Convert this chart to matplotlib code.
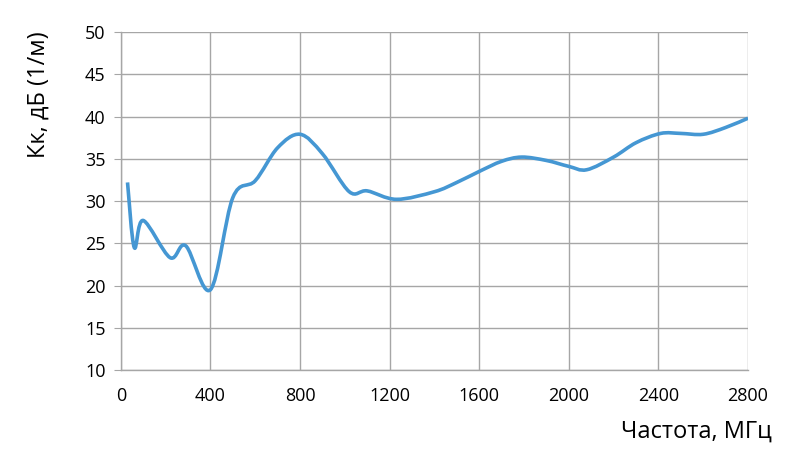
import matplotlib.pyplot as plt
from matplotlib.path import Path
from matplotlib.patches import PathPatch

# Частота (МГц) и Кк (дБ, 1/м)
freq = [30, 60, 100, 220, 290, 400, 500, 600, 700, 800, 900, 1020, 1100,
        1230, 1400, 1500, 1600, 1700, 1790, 1900, 2000, 2080, 2200, 2300,
        2410, 2500, 2600, 2700, 2800]
kk = [32.2, 24.5, 27.7, 23.3, 24.7, 19.5, 30.4, 32.4, 36.3, 37.9, 35.6, 31.1, 31.2,
      30.2, 31.1, 32.2, 33.5, 34.7, 35.2, 34.8, 34.1, 33.7, 35.2, 36.9,
      38.0, 38.0, 37.9, 38.7, 39.8]

x_ticks = [0, 400, 800, 1200, 1600, 2000, 2400, 2800]
y_ticks = [10, 15, 20, 25, 30, 35, 40, 45, 50]


def smooth_path(xs, ys):
    # сглаженная линия как в Excel: кривые Безье через точки
    n = len(xs)
    verts = [(xs[0], ys[0])]
    codes = [Path.MOVETO]
    for i in range(n - 1):
        x0, y0 = xs[max(i - 1, 0)], ys[max(i - 1, 0)]
        x1, y1 = xs[i], ys[i]
        x2, y2 = xs[i + 1], ys[i + 1]
        x3, y3 = xs[min(i + 2, n - 1)], ys[min(i + 2, n - 1)]
        c1 = (x1 + (x2 - x0) / 6, y1 + (y2 - y0) / 6)
        c2 = (x2 - (x3 - x1) / 6, y2 - (y3 - y1) / 6)
        verts += [c1, c2, (x2, y2)]
        codes += [Path.CURVE4] * 3
    return Path(verts, codes)


plt.rcParams['font.family'] = ['Open Sans', 'DejaVu Sans']

fig = plt.figure(figsize=(8, 4.71), dpi=100)
ax = fig.add_axes([0.151, 0.2144, 0.784, 0.7176])

grid_col = '#a6a6a6'
ax.set_xlim(0, 2800)
ax.set_ylim(10, 50)
ax.set_xticks(x_ticks)
ax.set_yticks(y_ticks)
ax.grid(True, color=grid_col, linewidth=1.0)
ax.set_axisbelow(True)

for s in ['top', 'right']:
    ax.spines[s].set_visible(False)
for s in ['left', 'bottom']:
    ax.spines[s].set_color(grid_col)
    ax.spines[s].set_linewidth(1.0)

ax.tick_params(axis='y', length=5, color=grid_col, labelsize=13, pad=6)
ax.tick_params(axis='x', length=0, labelsize=13, pad=12)

patch = PathPatch(smooth_path(freq, kk), facecolor='none', edgecolor='#4597d3',
                  linewidth=2.6, capstyle='butt', joinstyle='round', zorder=3)
ax.add_patch(patch)

fig.text(0.048, 0.8, 'Кк, дБ (1/м)', fontsize=17, rotation=90,
         ha='center', va='center')
fig.text(0.965, 0.083, 'Частота, МГц', fontsize=17, ha='right', va='center')

fig.savefig('out.png', dpi=100)
